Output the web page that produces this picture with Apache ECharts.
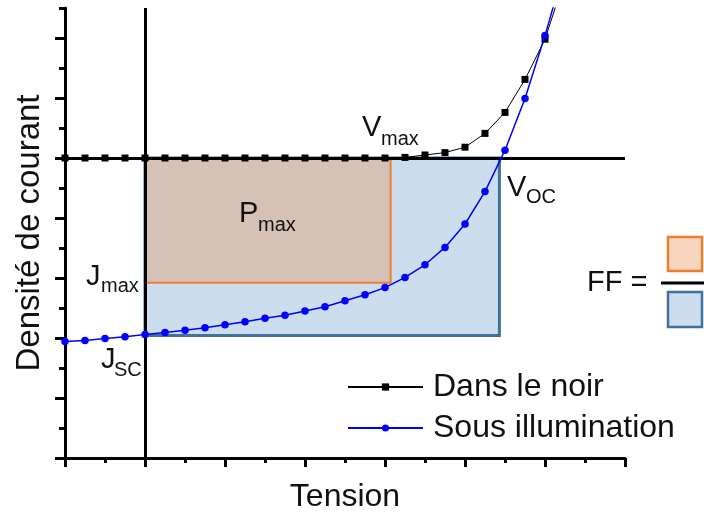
<!DOCTYPE html>
<html>
<head>
<meta charset="utf-8">
<script src="https://cdn.jsdelivr.net/npm/echarts@6/dist/echarts.min.js"></script>
<style>html,body{margin:0;padding:0;background:#fff}#c{width:704px;height:518px}</style>
</head>
<body>
<div id="c"></div>
<script>
// ---- data ----
const voltage = [-1, -0.75, -0.5, -0.25, 0, 0.25, 0.5, 0.75, 1, 1.25, 1.5, 1.75, 2, 2.25, 2.5, 2.75, 3, 3.25, 3.5, 3.75, 4, 4.25, 4.5, 4.75, 5, 5.25];
const darkJ = [0, 0, 0, 0, 0, 0, 0, 0, 0, 0, 0, 0, 0, 0, 0, 0, 0, 0.01, 0.05, 0.09, 0.18, 0.41, 0.76, 1.31, 1.98, 3.0];
const lightJ = [-3.06, -3.04, -3.01, -2.98, -2.94, -2.91, -2.87, -2.83, -2.78, -2.73, -2.67, -2.62, -2.55, -2.48, -2.38, -2.28, -2.16, -1.99, -1.78, -1.49, -1.10, -0.56, 0.13, 0.99, 2.04, 3.2];
const seriesNames = ['Dans le noir', 'Sous illumination'];
const vmax = 3.07, jmax = -2.08, voc = 4.43, jsc = -2.96;
const yMajorTicks = [-5, -4, -3, -2, -1, 0, 1, 2];
const yMinorTicks = [-4.5, -3.5, -2.5, -1.5, -0.5, 0.5, 1.5, 2.5];

const FONT = '"Liberation Sans", Arial, sans-serif';
const chart = echarts.init(document.getElementById('c'), null, {renderer: 'canvas'});

function txt(x, y, text, size) {
  return {type: 'text', x: x, y: y, z: 100,
    style: {text: text, font: size + 'px ' + FONT, fill: '#111', align: 'left', verticalAlign: 'middle'}};
}

const option = {
  animation: false,
  backgroundColor: '#fff',
  grid: {left: 65, top: 8, width: 560, height: 454},
  xAxis: {
    type: 'value', min: -1, max: 6, interval: 1,
    name: 'Tension', nameLocation: 'middle', nameGap: 23,
    nameTextStyle: {fontSize: 32, fontFamily: FONT, color: '#111'},
    axisLine: {show: true, onZero: false, lineStyle: {color: '#000', width: 3}},
    axisTick: {show: true, length: 9, lineStyle: {color: '#000', width: 3}},
    minorTick: {show: true, splitNumber: 2, length: 5, lineStyle: {color: '#000', width: 3}},
    axisLabel: {show: false}, splitLine: {show: false}
  },
  yAxis: [{
    type: 'value', min: -5, max: 2.5, interval: 1, position: 'left',
    name: 'Densité de courant', nameLocation: 'middle', nameGap: 19,
    nameTextStyle: {fontSize: 33, fontFamily: FONT, color: '#111'},
    axisLine: {show: true, onZero: false, lineStyle: {color: '#000', width: 3}},
    axisTick: {show: true, length: 10, customValues: yMajorTicks, lineStyle: {color: '#000', width: 3}},
    axisLabel: {show: false}, splitLine: {show: false}
  }, {
    type: 'value', min: -5, max: 2.5, interval: 0.5, position: 'left', offset: 0,
    axisLine: {show: false, onZero: false},
    axisTick: {show: true, length: 6, customValues: yMinorTicks, lineStyle: {color: '#000', width: 3}},
    axisLabel: {show: false}, splitLine: {show: false}
  }],
  legend: {
    left: 347, top: 371, padding: 0, orient: 'vertical', itemWidth: 75, itemHeight: 9, itemGap: 9,
    textStyle: {fontSize: 32, fontFamily: FONT, color: '#111', padding: [0, 0, 0, 5]},
    data: seriesNames
  },
  series: [
    {
      type: 'line', name: 'areas', data: [], z: 1, silent: true,
      markArea: {
        silent: true, z: 1,
        data: [
          [{xAxis: 0, yAxis: jsc, itemStyle: {color: '#ccddee', borderColor: '#41719c', borderWidth: 3}}, {xAxis: voc, yAxis: 0}],
          [{xAxis: 0, yAxis: jmax, itemStyle: {color: '#d5c1b5', borderColor: '#ed7d31', borderWidth: 2}}, {xAxis: vmax, yAxis: 0}]
        ]
      }
    },
    {
      type: 'line', name: 'zero', data: [], z: 2, silent: true,
      markLine: {
        silent: true, z: 2, symbol: 'none', label: {show: false},
        lineStyle: {color: '#000', width: 3, type: 'solid'},
        data: [{xAxis: 0}, {yAxis: 0}]
      }
    },
    {
      type: 'line', name: seriesNames[0], z: 3,
      data: voltage.map((v, i) => [v, darkJ[i]]),
      symbol: 'rect', symbolSize: 7,
      lineStyle: {color: '#000', width: 1},
      itemStyle: {color: '#000'}
    },
    {
      type: 'line', name: seriesNames[1], z: 4,
      data: voltage.map((v, i) => [v, lightJ[i]]),
      symbol: 'circle', symbolSize: 7.5,
      lineStyle: {color: '#0000ff', width: 1.5},
      itemStyle: {color: '#0000ff'}
    }
  ],
  graphic: [
    txt(362, 128, 'V', 29), txt(381, 139, 'max', 20),
    txt(239, 214, 'P', 29), txt(258, 225, 'max', 20),
    txt(86, 277, 'J', 29), txt(101, 286, 'max', 20),
    txt(101, 360, 'J', 29), txt(114, 370, 'SC', 20),
    txt(507, 188, 'V', 29), txt(526, 197, 'OC', 20),
    txt(587, 283, 'FF =', 29),
    {type: 'rect', z: 100, shape: {x: 668, y: 237, width: 34, height: 34}, style: {fill: '#f8d5bd', stroke: '#ed7d31', lineWidth: 2.5}},
    {type: 'rect', z: 100, shape: {x: 661, y: 281.5, width: 43, height: 3}, style: {fill: '#000'}},
    {type: 'rect', z: 100, shape: {x: 668, y: 292, width: 34, height: 35}, style: {fill: '#cddcee', stroke: '#41719c', lineWidth: 2.5}}
  ]
};
chart.setOption(option);
</script>
</body>
</html>
